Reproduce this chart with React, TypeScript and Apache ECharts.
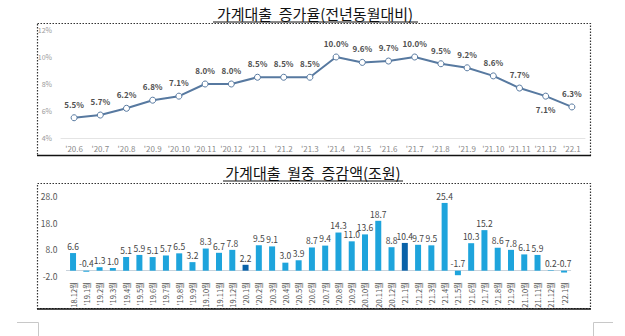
import React, { useEffect, useRef } from "react";
import * as echarts from "echarts";

const rateMonths = ["'20.6", "'20.7", "'20.8", "'20.9", "'20.10", "'20.11", "'20.12", "'21.1", "'21.2", "'21.3", "'21.4", "'21.5", "'21.6", "'21.7", "'21.8", "'21.9", "'21.10", "'21.11", "'21.12", "'22.1"];
const rateValues = [5.5, 5.7, 6.2, 6.8, 7.1, 8.0, 8.0, 8.5, 8.5, 8.5, 10.0, 9.6, 9.7, 10.0, 9.5, 9.2, 8.6, 7.7, 7.1, 6.3];
const rateLabelBelow = ["'21.12"];

const changeMonths = ["'18.12월", "'19.1월", "'19.2월", "'19.3월", "'19.4월", "'19.5월", "'19.6월", "'19.7월", "'19.8월", "'19.9월", "'19.10월", "'19.11월", "'19.12월", "'20.1월", "'20.2월", "'20.3월", "'20.4월", "'20.5월", "'20.6월", "'20.7월", "'20.8월", "'20.9월", "'20.10월", "'20.11월", "'20.12월", "'21.1월", "'21.2월", "'21.3월", "'21.4월", "'21.5월", "'21.6월", "'21.7월", "'21.8월", "'21.9월", "'21.10월", "'21.11월", "'21.12월", "'22.1월"];
const changeValues = [6.6, -0.4, 1.3, 1.0, 5.1, 5.9, 5.1, 5.7, 6.5, 3.2, 8.3, 6.7, 7.8, 2.2, 9.5, 9.1, 3.0, 3.9, 8.7, 9.4, 14.3, 11.0, 13.6, 18.7, 8.8, 10.4, 9.7, 9.5, 25.4, -1.7, 10.3, 15.2, 8.6, 7.8, 6.1, 5.9, 0.2, -0.7];
const highlightMonths = ["'20.1월", "'21.1월"];

const rateTicks = [4, 12, 2];
const changeTicks = [-2, 28, 10];

const topTitle = "가계대출  증가율(전년동월대비)";
const bottomTitle = "가계대출  월중  증감액(조원)";

const FONT = "'Noto Sans CJK KR', 'Noto Sans', sans-serif";

export default function App() {
  const ref = useRef<HTMLDivElement>(null);
  useEffect(() => {
    if (!ref.current) return;
    const chart = echarts.init(ref.current, null, { renderer: "svg" });
    const lineColor = "#5779a0";
    const barColor = "#1ea4dc";
    const darkBar = "#0a62a8";
    chart.setOption({
      animation: false,
      textStyle: { fontFamily: FONT },
      grid: [
        { left: 61, right: 40, top: 30, height: 108 },
        { left: 66.4, right: 54.3, top: 196, height: 80 },
      ],
      xAxis: [
        {
          gridIndex: 0,
          type: "category",
          data: rateMonths,
          axisLine: { lineStyle: { color: "#e4e4e4" } },
          axisTick: { show: false },
          axisLabel: { color: "#8a8a8a", fontSize: 8, margin: 6, interval: 0 },
        },
        {
          gridIndex: 1,
          type: "category",
          data: changeMonths,
          axisLine: { onZero: true, lineStyle: { color: "#c9d3dc" } },
          axisTick: { show: false },
          axisLabel: { color: "#555", fontSize: 7.5, margin: 6, interval: 0, rotate: 90 },
        },
      ],
      yAxis: [
        {
          gridIndex: 0,
          type: "value",
          min: rateTicks[0],
          max: rateTicks[1],
          interval: rateTicks[2],
          axisLine: { show: false },
          axisTick: { show: false },
          splitLine: { show: false },
          axisLabel: { color: "#9a9a9a", fontSize: 7, margin: 9, formatter: "{value}%" },
        },
        {
          gridIndex: 1,
          type: "value",
          min: changeTicks[0],
          max: changeTicks[1],
          interval: changeTicks[2],
          axisLine: { show: false },
          axisTick: { show: false },
          splitLine: { show: false },
          axisLabel: { color: "#555", fontSize: 8.5, margin: 9, formatter: (v: number) => v.toFixed(1) },
        },
      ],
      series: [
        {
          type: "line",
          xAxisIndex: 0,
          yAxisIndex: 0,
          data: rateValues.map((v, i) => ({
            value: v,
            label: { position: rateLabelBelow.includes(rateMonths[i]) ? "bottom" : "top" },
          })),
          lineStyle: { color: lineColor, width: 2 },
          itemStyle: { color: "#fff", borderColor: lineColor, borderWidth: 1 },
          symbol: "circle",
          symbolSize: 6,
          label: {
            show: true,
            fontSize: 8,
            fontWeight: "bold",
            color: "#505050",
            distance: 6,
            formatter: (p: any) => p.value.toFixed(1) + "%",
          },
        },
        {
          type: "bar",
          xAxisIndex: 1,
          yAxisIndex: 1,
          barWidth: 6,
          data: changeValues.map((v, i) => ({
            value: v,
            itemStyle: { color: highlightMonths.includes(changeMonths[i]) ? darkBar : barColor },
          })),
          label: {
            show: true,
            position: "top",
            fontSize: 8.5,
            color: "#444",
            distance: 3,
            formatter: (p: any) => p.value.toFixed(1),
          },
        },
      ],
      graphic: [
        {
          type: "text",
          x: 315,
          y: 13,
          style: { text: topTitle, fontSize: 15, fontFamily: FONT, fill: "#111", align: "center", verticalAlign: "middle" },
        },
        { type: "line", shape: { x1: 213, y1: 22, x2: 418, y2: 22 }, style: { stroke: "#111", lineWidth: 1 } },
        {
          type: "rect",
          shape: { x: 37.5, y: 23.5, width: 553, height: 132 },
          style: { fill: "none", stroke: "#333", lineWidth: 1.2, lineDash: [1.5, 1.5] },
        },
        { type: "line", shape: { x1: 37, y1: 155.5, x2: 591, y2: 155.5 }, style: { stroke: "#111", lineWidth: 1.6 } },
        {
          type: "text",
          x: 313,
          y: 172,
          style: { text: bottomTitle, fontSize: 15, fontFamily: FONT, fill: "#111", align: "center", verticalAlign: "middle" },
        },
        { type: "line", shape: { x1: 223, y1: 181, x2: 403, y2: 181 }, style: { stroke: "#111", lineWidth: 1 } },
        {
          type: "rect",
          shape: { x: 37.5, y: 183.5, width: 553, height: 125 },
          style: { fill: "none", stroke: "#333", lineWidth: 1.2, lineDash: [1.5, 1.5] },
        },
        { type: "line", shape: { x1: 37, y1: 309, x2: 591, y2: 309 }, style: { stroke: "#111", lineWidth: 1.6 } },
        { type: "polyline", shape: { points: [[17, 322.5], [38.5, 322.5], [38.5, 336]] }, style: { stroke: "#c8c8c8", fill: "none", lineWidth: 1 } },
        { type: "polyline", shape: { points: [[613, 322.5], [593.5, 322.5], [593.5, 336]] }, style: { stroke: "#c8c8c8", fill: "none", lineWidth: 1 } },
      ],
    });
    return () => chart.dispose();
  }, []);
  return (
    <div
      ref={ref}
      style={{ position: "fixed", left: 0, top: 0, width: 625, height: 336, background: "#fff" }}
    />
  );
}
